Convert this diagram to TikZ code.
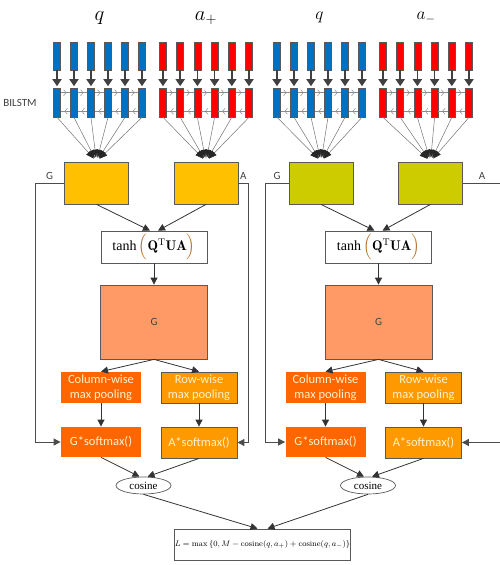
\documentclass[tikz,border=0pt]{standalone}
\usepackage{amsmath}
\usepackage{fontspec}
\setsansfont{Carlito}
\newfontfamily\timesface{Liberation Serif}
\usepackage{tikz}
\usetikzlibrary{arrows.meta, positioning, calc, shapes.geometric, decorations.markings}

\definecolor{barblue}{HTML}{0070C0}
\definecolor{barred}{HTML}{FF0000}
\definecolor{lstmyellow}{HTML}{FFC000}
\definecolor{lstmolive}{HTML}{CCCC00}
\definecolor{matsalmon}{HTML}{FF9966}
\definecolor{pooldark}{HTML}{FF6600}
\definecolor{poollight}{HTML}{FF9900}
\definecolor{edgegray}{HTML}{595959}
\definecolor{parenbrown}{HTML}{B8702A}
\definecolor{pooltext}{HTML}{FFF2CC}

\tikzset{
  bar/.style={draw=edgegray, line width=0.6pt, minimum width=7pt, inner sep=0pt},
  inbar/.style={bar, minimum height=28pt},
  hidbar/.style={bar, minimum height=29pt},
  lstmbox/.style={draw=edgegray, line width=0.8pt, minimum width=64pt, minimum height=42pt, inner sep=0pt},
  plainbox/.style={draw=edgegray, line width=0.8pt, fill=white, inner sep=0pt},
  poolbox/.style={line width=0.8pt, inner sep=0pt, align=center, text=pooltext,
                  font=\sffamily\fontsize{12.5}{15}\selectfont},
  sidelbl/.style={font=\sffamily\fontsize{11}{13}\selectfont, text=black!75},
  inarr/.style={draw=black!75, line width=1.6pt, -{Triangle[width=9pt,length=7pt]}, shorten >=1.5pt},
  fan/.style={draw=black!55, line width=0.5pt, -{Triangle[width=6pt,length=8pt,color=black!85]}, shorten >=4pt},
  fwd/.style={draw=black!45, line width=0.5pt, postaction={decorate},
              decoration={markings, mark=at position 0.6 with {\arrow{Straight Barb[length=2.5pt,width=6pt]}}}},
  arr/.style={draw=black!80, line width=0.8pt, -{Triangle[width=7pt,length=7pt]}},
  feed/.style={draw=black!70, line width=0.9pt, -{Triangle[width=7pt,length=7pt]}},
}

\begin{document}
\begin{tikzpicture}[x=1pt, y=-1pt]
  \useasboundingbox (0,0) rectangle (500,565);

  \node[sidelbl] (bilstm) at (20,103) {BILSTM};

  \foreach \h/\dx/\bx/\boxcol/\sg/\lsz/\gl/\ar in
    {L/0/0/lstmyellow/+/\huge/-29/10, R/224.5/220/lstmolive/-/\LARGE/-23/38.5} {
    % word vectors and BILSTM states
    \foreach \i in {1,...,6} {
      \node[inbar, fill=barblue] (qin\h\i) at ({\bx+57+17*(\i-1)},56) {};
      \node[hidbar, fill=barblue] (qhid\h\i) at ({\bx+57+17*(\i-1)},102.5) {};
      \node[inbar, fill=barred] (ain\h\i) at ({\bx+163+17.2*(\i-1)},56) {};
      \node[hidbar, fill=barred] (ahid\h\i) at ({\bx+163+17.2*(\i-1)},102.5) {};
      \draw[inarr] (qin\h\i) -- (qhid\h\i);
      \draw[inarr] (ain\h\i) -- (ahid\h\i);
    }
    \foreach \i in {1,...,5} {
      \pgfmathtruncatemacro\j{\i+1}
      \draw[fwd] ([yshift=-5pt]qhid\h\i.north east) -- ([yshift=-5pt]qhid\h\j.north west);
      \draw[fwd] ([yshift=6pt]qhid\h\j.south west) -- ([yshift=6pt]qhid\h\i.south east);
      \draw[fwd] ([yshift=-5pt]ahid\h\i.north east) -- ([yshift=-5pt]ahid\h\j.north west);
      \draw[fwd] ([yshift=6pt]ahid\h\j.south west) -- ([yshift=6pt]ahid\h\i.south east);
    }
    \node (qlbl\h) at ($(qin\h3.north)!0.5!(qin\h4.north)+(0,-24)$) {\lsz$q$};
    \node (albl\h) at ($(ain\h3.north)!0.5!(ain\h4.north)+(0,-24)$) {\lsz$a_{\sg}$};

    % attention part
    \node[lstmbox, fill=\boxcol] (qbox\h) at (\dx+96.5,183) {};
    \node[lstmbox, fill=\boxcol] (abox\h) at (\dx+206,183) {};
    \foreach \i in {1,...,6} {
      \draw[fan] (qhid\h\i.south) -- (qbox\h.north);
      \draw[fan] (ahid\h\i.south) -- (abox\h.north);
    }
    \node[plainbox, minimum width=106pt, minimum height=32pt, font=\fontsize{14}{16}\selectfont] (tanh\h) at (\dx+154,247)
      {{\timesface tanh}$\,\textcolor{parenbrown}{\Bigl(}\mathbf{Q}^{\mathrm{T}}\mathbf{UA}\textcolor{parenbrown}{\Bigr)}$};
    \node[plainbox, fill=matsalmon, minimum width=107pt, minimum height=74pt, font=\sffamily\fontsize{11}{13}\selectfont, text=black!75] (gmat\h) at (\dx+154,322) {G};
    \node[poolbox, fill=pooldark, minimum width=80pt, minimum height=31pt] (col\h) at (\dx+101,387.5) {Column-wise\\max pooling};
    \node[poolbox, draw=edgegray, fill=poollight, minimum width=76pt, minimum height=31pt] (row\h) at (\dx+199,387.5) {Row-wise\\max pooling};
    \node[poolbox, fill=pooldark, minimum width=80pt, minimum height=30pt] (gsm\h) at (\dx+101,442) {G*softmax()};
    \node[poolbox, draw=edgegray, fill=poollight, minimum width=76pt, minimum height=31pt] (asm\h) at (\dx+199,442.5) {A*softmax()};
    \node[ellipse, draw=edgegray, line width=0.7pt, minimum width=55pt, minimum height=17pt, inner sep=0pt,
          font=\timesface\fontsize{11}{12}\selectfont] (cos\h) at (\dx+143.5,485.5) {cosine};

    \draw[arr] (qbox\h.south) -- ([xshift=-4pt]tanh\h.north);
    \draw[arr] (abox\h.south) -- ([xshift=4pt]tanh\h.north);
    \draw[arr] (tanh\h) -- (gmat\h);
    \draw[arr] (gmat\h.south) -- (col\h.north);
    \draw[arr] (gmat\h.south) -- (row\h.north);
    \draw[arr] (col\h) -- (gsm\h);
    \draw[arr] (row\h) -- (asm\h);
    \draw[arr] (gsm\h.south) -- ([xshift=-4pt]cos\h.north);
    \draw[arr] (asm\h.south) -- ([xshift=4pt]cos\h.north);
    \draw[feed] (qbox\h.west) -- ++(\gl,0) node[midway, above, sidelbl] {G} |- (gsm\h.west);
    \draw[feed] (abox\h.east) -- ++(\ar,0) node[midway, above, sidelbl] {A} |- (asm\h.east);
  }

  \node[plainbox, minimum width=171pt, minimum height=31pt, font=\fontsize{8}{9}\selectfont] (loss) at (262.5,544.5)
    {$L=\max\left\{0,M-\mathrm{cosine}(q,a_{+})+\mathrm{cosine}(q,a_{-})\right\}$};
  \draw[arr] (cosL.south) -- ([xshift=-5pt]loss.north);
  \draw[arr] (cosR.south) -- ([xshift=5pt]loss.north);
\end{tikzpicture}
\end{document}
